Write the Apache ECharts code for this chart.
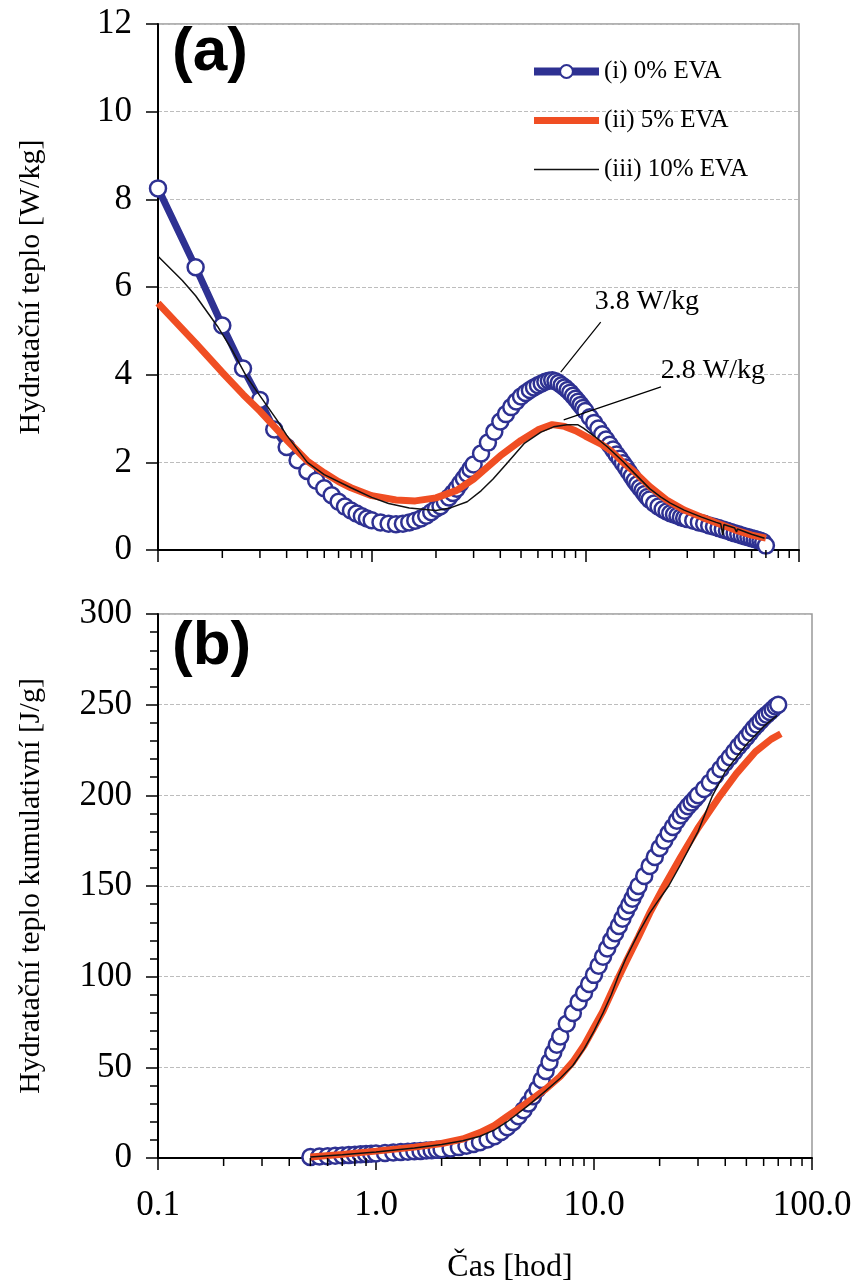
<!DOCTYPE html>
<html>
<head>
<meta charset="utf-8">
<title>Hydratační teplo</title>
<script src="https://cdn.jsdelivr.net/npm/echarts@6/dist/echarts.min.js"></script>
<style>
  html, body { margin: 0; padding: 0; background: #fff; }
  #main { width: 860px; height: 1285px; }
</style>
</head>
<body>
<div id="main"></div>
<script>
// series names (legend)
var seriesNames = ['(i) 0% EVA', '(ii) 5% EVA', '(iii) 10% EVA'];

// (a) hydration heat rate [W/kg] vs time [h]
var rate0 = [
  [0.1, 8.25], [0.15, 6.45], [0.2, 5.12], [0.25, 4.14], [0.3, 3.42], [0.35, 2.75], [0.4, 2.35], [0.45, 2.05],
  [0.5, 1.8], [0.55, 1.58], [0.6, 1.41], [0.65, 1.25], [0.7, 1.1], [0.75, 0.99], [0.8, 0.9], [0.85, 0.83],
  [0.9, 0.77], [0.95, 0.72], [1.0, 0.68], [1.1, 0.63], [1.2, 0.6], [1.3, 0.59], [1.4, 0.6], [1.5, 0.63],
  [1.6, 0.67], [1.7, 0.72], [1.8, 0.78], [1.9, 0.86], [2.0, 0.94], [2.1, 1.0], [2.2, 1.1], [2.3, 1.2],
  [2.4, 1.3], [2.5, 1.4], [2.6, 1.52], [2.7, 1.63], [2.8, 1.74], [2.9, 1.85], [3.0, 1.95], [3.25, 2.2],
  [3.5, 2.45], [3.75, 2.7], [4.0, 2.93], [4.25, 3.1], [4.5, 3.26], [4.75, 3.39], [5.0, 3.5], [5.25, 3.58],
  [5.5, 3.65], [5.75, 3.71], [6.0, 3.76], [6.25, 3.8], [6.5, 3.84], [6.75, 3.86], [7.0, 3.87], [7.25, 3.85],
  [7.5, 3.81], [7.75, 3.76], [8.0, 3.71], [8.25, 3.65], [8.5, 3.59], [8.75, 3.52], [9.0, 3.45], [9.25, 3.38],
  [9.5, 3.31], [9.75, 3.24], [10, 3.17], [10.5, 3.03], [11, 2.9], [11.5, 2.77], [12, 2.64], [12.5, 2.52],
  [13, 2.4], [13.5, 2.29], [14, 2.18], [14.5, 2.08], [15, 1.98], [15.5, 1.88], [16, 1.78], [16.5, 1.68],
  [17, 1.58], [17.5, 1.5], [18, 1.42], [18.5, 1.35], [19, 1.28], [19.5, 1.21], [20, 1.15], [21, 1.06],
  [22, 0.99], [23, 0.93], [24, 0.88], [25, 0.84], [26, 0.81], [27, 0.78], [28, 0.75], [29, 0.73],
  [30, 0.71], [32, 0.67], [34, 0.63], [36, 0.6], [38, 0.56], [40, 0.53], [42, 0.5], [44, 0.47],
  [46, 0.44], [48, 0.41], [50, 0.38], [52, 0.36], [54, 0.33], [56, 0.31], [58, 0.29], [60, 0.27],
  [62, 0.25], [64, 0.23], [66, 0.21], [68, 0.18], [70, 0.1]
];
var rate5 = [
  [0.1, 5.63], [0.12, 5.22], [0.15, 4.72], [0.2, 4.05], [0.25, 3.55], [0.3, 3.17], [0.4, 2.51], [0.5, 2.03],
  [0.6, 1.76], [0.7, 1.56], [0.8, 1.42], [1.0, 1.24], [1.3, 1.14], [1.6, 1.12], [2.0, 1.19], [2.5, 1.36],
  [3.0, 1.62], [3.5, 1.9], [4.0, 2.15], [5.0, 2.5], [6.0, 2.74], [7.0, 2.86], [8.0, 2.82], [9.0, 2.72],
  [10, 2.6], [11.8, 2.42], [13.3, 2.25], [15, 2.0], [17, 1.78], [20, 1.45], [24, 1.14], [29, 0.91],
  [35, 0.75], [41, 0.62], [50, 0.46], [60, 0.34], [70, 0.27]
];
var rate10 = [
  [0.1, 6.7], [0.13, 6.15], [0.15, 5.8], [0.19, 5.1], [0.22, 4.6], [0.26, 3.95], [0.31, 3.42], [0.36, 2.97],
  [0.4, 2.62], [0.5, 2.0], [0.6, 1.72], [0.8, 1.42], [1.0, 1.2], [1.2, 1.06], [1.5, 0.96], [2.0, 0.9],
  [2.3, 0.95], [2.8, 1.1], [3.25, 1.35], [3.7, 1.62], [4.3, 1.98], [5.2, 2.44], [6.2, 2.69], [7.1, 2.81],
  [8.2, 2.86], [9.2, 2.86], [9.8, 2.78], [11, 2.6], [12.7, 2.35], [15, 2.02], [16.9, 1.76], [20, 1.4],
  [22.5, 1.21], [25, 1.07], [29, 0.91], [35, 0.75], [41, 0.63], [43, 0.6], [44, 0.34], [44.5, 0.58],
  [50, 0.5], [51, 0.41], [51.5, 0.48], [60, 0.36], [69, 0.27]
];

// (b) cumulative hydration heat [J/g] vs time [h]
var cum0 = [
  [0.5, 0.5], [0.55, 0.8], [0.6, 1.0], [0.65, 1.2], [0.7, 1.4], [0.75, 1.6], [0.8, 1.8], [0.85, 2.0],
  [0.9, 2.2], [0.95, 2.3], [1.0, 2.5], [1.1, 2.8], [1.2, 3.0], [1.3, 3.3], [1.4, 3.5], [1.5, 3.7],
  [1.6, 3.9], [1.7, 4.1], [1.8, 4.3], [1.9, 4.5], [2.0, 4.8], [2.2, 5.3], [2.4, 6.0], [2.6, 6.8],
  [2.8, 7.7], [3.0, 8.7], [3.25, 10.2], [3.5, 12], [3.75, 14.3], [4.0, 17], [4.25, 19.8], [4.5, 23],
  [4.75, 26.4], [5.0, 30], [5.25, 34], [5.5, 38], [5.75, 43], [6.0, 48], [6.25, 53], [6.5, 58],
  [6.75, 62.5], [7.0, 67], [7.5, 74], [8.0, 80], [8.5, 86], [9.0, 91], [9.5, 96], [10, 101],
  [10.5, 106], [11, 111], [11.5, 115.5], [12, 120], [12.5, 124], [13, 128], [13.5, 132], [14, 136],
  [14.5, 139.5], [15, 143], [15.5, 146.5], [16, 150], [17, 155.5], [18, 161], [19, 166], [20, 171],
  [21, 175], [22, 179], [23, 182.5], [24, 186], [25, 189], [26, 191.5], [27, 194], [28, 196],
  [29, 198], [30, 200], [32, 203.5], [34, 207], [36, 211], [38, 214.5], [40, 218], [42, 221],
  [44, 224], [46, 227], [48, 229.5], [50, 232], [52, 234.5], [54, 237], [56, 239], [58, 241],
  [60, 243], [62, 244.5], [64, 246], [66, 247.5], [68, 249], [70, 250]
];
var cum5 = [
  [0.5, 0.5], [0.7, 2], [1.0, 3.8], [1.5, 6], [2.0, 8], [2.5, 10.5], [3.0, 14], [3.5, 18],
  [4.0, 23], [5.0, 31], [6.0, 38], [7.0, 45], [8.0, 53], [9.0, 62], [10, 72], [11, 81],
  [12, 91], [13, 100], [14, 108], [16, 122], [18, 135], [21, 150], [25, 166], [30, 182],
  [38, 200], [45, 212], [55, 224], [65, 231], [72, 234]
];
var cum10 = [
  [0.5, 0.5], [0.7, 1.8], [1.0, 3.3], [1.5, 5.5], [2.0, 7.5], [2.5, 9.5], [3.0, 12], [3.5, 15.5],
  [4.0, 20], [5.0, 29], [6.0, 37], [7.0, 44], [8.0, 51], [9.0, 60], [10, 70], [11, 80],
  [12, 90], [13, 101], [14, 110], [16, 124], [18, 135], [20, 143], [22, 150], [25, 162],
  [30, 180], [35, 200], [40, 213], [50, 228], [60, 238], [69, 244]
];

// minor ticks of the log time axis
var minorTicks = [0.2, 0.3, 0.4, 0.5, 0.6, 0.7, 0.8, 0.9, 2, 3, 4, 5, 6, 7, 8, 9, 20, 30, 40, 50, 60, 70, 80, 90];

// peak annotations in (a): leader line [from, to] and label point
var peakLines = [
  [[11.8, 5.2], [7.67, 4.06]],
  [[22.6, 3.72], [7.92, 2.97]]
];
var peakLabels = [
  { name: '3.8 W/kg', coord: [19.4, 5.66] },
  { name: '2.8 W/kg', coord: [39.5, 4.1] }
];

var BLUE = '#2E3192';
var ORANGE = '#F04E23';
var SERIF = 'Liberation Serif';

function blueSeries(data, idx) {
  return {
    name: seriesNames[0],
    type: 'line',
    xAxisIndex: idx,
    yAxisIndex: idx,
    data: data,
    symbol: 'circle',
    symbolSize: 16,
    showAllSymbol: true,
    lineStyle: { color: BLUE, width: 7 },
    itemStyle: { color: '#fff', borderColor: BLUE, borderWidth: 2.5 },
    z: 2
  };
}
function plainSeries(name, data, idx, color, width, z) {
  return {
    name: name,
    type: 'line',
    xAxisIndex: idx,
    yAxisIndex: idx,
    data: data,
    symbol: 'none',
    lineStyle: { color: color, width: width },
    itemStyle: { color: color },
    z: z
  };
}
function tickSeries(idx) {
  return {
    type: 'custom',
    xAxisIndex: idx,
    yAxisIndex: idx,
    silent: true,
    clip: false,
    data: minorTicks.map(function (t) { return [t, 0]; }),
    renderItem: function (params, api) {
      var p = api.coord([api.value(0), 0]);
      return {
        type: 'line',
        shape: { x1: p[0], y1: p[1], x2: p[0], y2: p[1] + 8 },
        style: { stroke: '#000', lineWidth: 1.5 }
      };
    },
    z: 5
  };
}

function xAxis(idx, showLabel) {
  return {
    type: 'log',
    logBase: 10,
    gridIndex: idx,
    min: 0.1,
    max: 100,
    axisLine: { show: true, lineStyle: { color: '#000', width: 2 } },
    axisTick: { show: true, length: 12, lineStyle: { color: '#000', width: 1.5 } },
    splitLine: { show: false },
    axisLabel: {
      show: showLabel,
      margin: 30,
      color: '#000',
      fontFamily: SERIF,
      fontSize: 35,
      formatter: function (v) { return v.toFixed(1); }
    },
    name: showLabel ? 'Čas [hod]' : '',
    nameLocation: 'middle',
    nameGap: 94,
    nameTextStyle: { color: '#000', fontFamily: SERIF, fontSize: 32, padding: [0, 0, 0, 50] }
  };
}
function yAxis(idx, max, interval, name, minor) {
  return {
    type: 'value',
    gridIndex: idx,
    min: 0,
    max: max,
    interval: interval,
    axisLine: { show: true, lineStyle: { color: '#000', width: 2 } },
    axisTick: { show: true, length: 12, lineStyle: { color: '#000', width: 1.5 } },
    minorTick: { show: minor, splitNumber: 5, length: 8, lineStyle: { color: '#000', width: 1.5 } },
    splitLine: { show: true, lineStyle: { color: '#bdbdbd', type: 'dashed', width: 1 } },
    axisLabel: { margin: 26, color: '#000', fontFamily: SERIF, fontSize: 35 },
    name: name,
    nameLocation: 'middle',
    nameGap: 112,
    nameTextStyle: { color: '#000', fontFamily: SERIF, fontSize: 30 }
  };
}

var chart = echarts.init(document.getElementById('main'));

var markLines = peakLines.map(function (l) {
  return [{ coord: l[0] }, { coord: l[1] }];
});

var topBlack = plainSeries(seriesNames[2], rate10, 0, '#111', 1.5, 4);
topBlack.markLine = {
  silent: true,
  symbol: 'none',
  label: { show: false },
  lineStyle: { color: '#000', width: 1.2, type: 'solid' },
  data: markLines
};
topBlack.markPoint = {
  silent: true,
  symbol: 'circle',
  symbolSize: 0,
  label: {
    show: true,
    position: 'inside',
    formatter: '{b}',
    color: '#000',
    fontFamily: SERIF,
    fontSize: 28
  },
  data: peakLabels
};

chart.setOption({
  animation: false,
  backgroundColor: '#fff',
  grid: [
    { left: 158, top: 24, width: 641, height: 526, show: true, borderColor: '#999', borderWidth: 1.5 },
    { left: 158, top: 614, width: 654, height: 544, show: true, borderColor: '#999', borderWidth: 1.5 }
  ],
  legend: {
    data: [
      { name: seriesNames[0], lineStyle: { width: 8 } },
      { name: seriesNames[1], icon: 'path://M0,0H64V7H0Z' },
      { name: seriesNames[2], icon: 'path://M0,0H60V1.6H0Z' }
    ],
    orient: 'vertical',
    left: 525,
    top: 54,
    itemWidth: 65,
    itemHeight: 16,
    itemGap: 24,
    selectedMode: false,
    textStyle: { color: '#000', fontFamily: SERIF, fontSize: 25 }
  },
  graphic: [
    { type: 'text', left: 172, top: 22, style: { text: '(a)', font: 'bold 62px "Liberation Sans"', fill: '#000' } },
    { type: 'text', left: 172, top: 616, style: { text: '(b)', font: 'bold 62px "Liberation Sans"', fill: '#000' } }
  ],
  xAxis: [xAxis(0, false), xAxis(1, true)],
  yAxis: [
    yAxis(0, 12, 2, 'Hydratační teplo [W/kg]', false),
    yAxis(1, 300, 50, 'Hydratační teplo kumulativní [J/g]', true)
  ],
  series: [
    blueSeries(rate0, 0),
    plainSeries(seriesNames[1], rate5, 0, ORANGE, 7, 3),
    topBlack,
    tickSeries(0),
    blueSeries(cum0, 1),
    plainSeries(seriesNames[1], cum5, 1, ORANGE, 7, 3),
    plainSeries(seriesNames[2], cum10, 1, '#111', 1.5, 4),
    tickSeries(1)
  ]
});
</script>
</body>
</html>
